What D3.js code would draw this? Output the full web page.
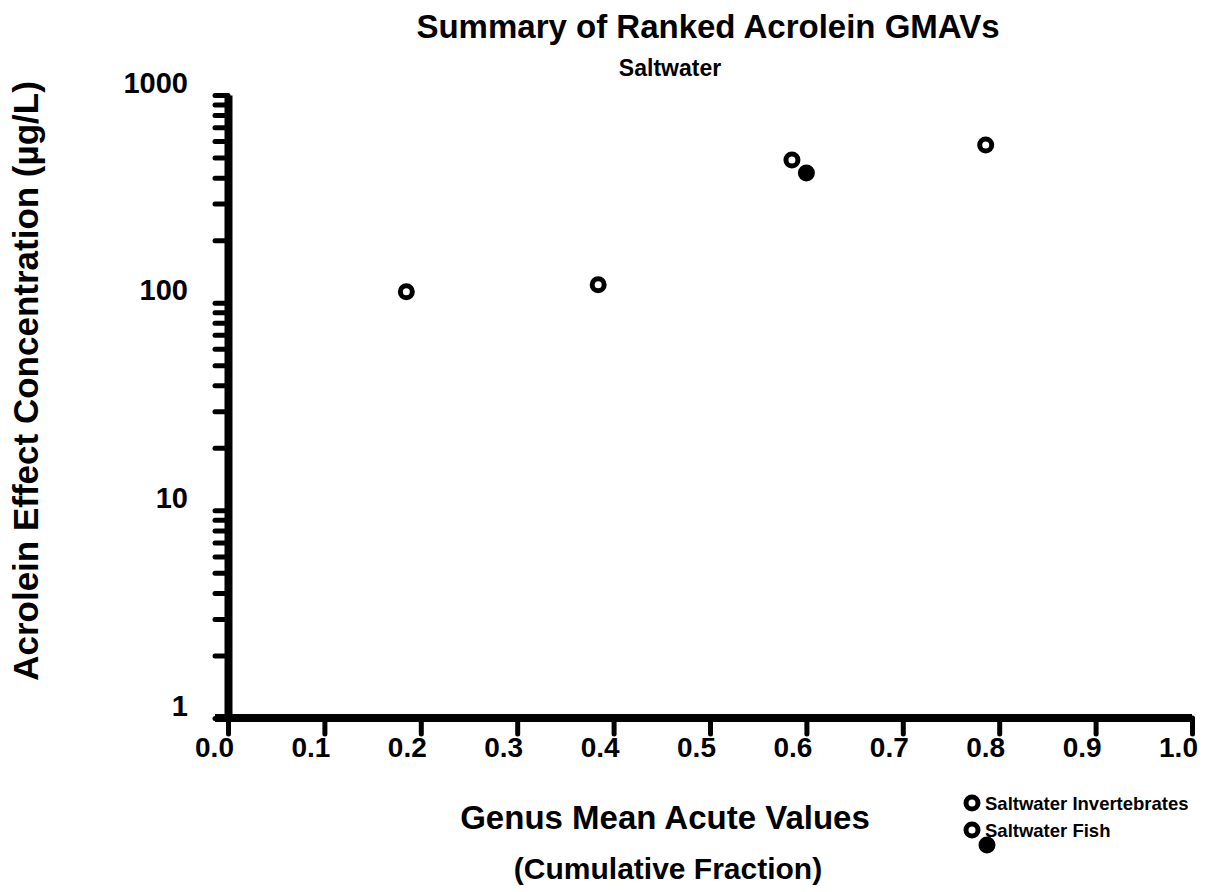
<!DOCTYPE html>
<html>
  <head>
    <meta charset="utf-8">
    <title>Summary of Ranked Acrolein GMAVs</title>
    <script src="https://cdn.jsdelivr.net/npm/d3@7"></script>
    <style>
    body {margin:0; background:#fff;}
    svg text {font-family: Arial, 'Liberation Sans', sans-serif; font-weight: bold; fill:#000;}
    </style>
  </head>
  <body>
    <svg id="svg1" width="1208" height="892"></svg>
    <script>
    // data
    var invertFrac = [0.185, 0.384, 0.585, 0.786];
    var invertConc = [113, 122, 486, 574];
    var fishFrac = [0.600];
    var fishConc = [421];
    var xTicks = [0, 0.1, 0.2, 0.3, 0.4, 0.5, 0.6, 0.7, 0.8, 0.9, 1.0];
    var yDecades = [1, 10, 100, 1000];
    var legendNames = ['Saltwater Invertebrates', 'Saltwater Fish'];

    var svg = d3.select('#svg1');

    var x = d3.scaleLinear().domain([0, 1]).range([228, 1192]);
    var y = d3.scaleLog().domain([1, 1000]).range([718, 95]);

    // all log ticks 1..9 per decade
    var yTickVals = [];
    yDecades.forEach(function (d) {
      if (d === 1000) { yTickVals.push(d); return; }
      for (var k = 1; k < 10; k++) yTickVals.push(d * k);
    });

    // y axis
    var yAxis = d3.axisLeft(y)
      .tickValues(yTickVals)
      .tickSize(13)
      .tickSizeOuter(0)
      .tickFormat(function (d) { return yDecades.indexOf(d) >= 0 ? d : ''; });

    var gy = svg.append('g')
      .attr('transform', 'translate(' + x(0) + ',0)')
      .call(yAxis);
    gy.select('.domain').attr('stroke', '#000').attr('stroke-width', 8);
    gy.selectAll('.tick line').attr('stroke', '#000').attr('stroke-width', 5).attr('stroke-linecap', 'round');
    gy.selectAll('.tick text')
      .attr('x', -40)
      .attr('dy', '-0.1em')
      .style('font-size', '29px');

    // x axis
    var xAxis = d3.axisBottom(x)
      .tickValues(xTicks)
      .tickSize(16)
      .tickSizeOuter(0)
      .tickPadding(3)
      .tickFormat(d3.format('.1f'));

    var gx = svg.append('g')
      .attr('transform', 'translate(0,' + y(1) + ')')
      .call(xAxis);
    gx.select('.domain').attr('stroke', '#000').attr('stroke-width', 8)
      .attr('d', 'M' + (x(0) - 13) + ',0H' + x(1));
    gx.selectAll('.tick line').attr('stroke', '#000').attr('stroke-width', 5).attr('stroke-linecap', 'round');
    gx.selectAll('.tick text').attr('x', -14).style('font-size', '28px');

    // points
    var ring = function (sel) {
      sel.attr('r', 6).attr('fill', '#fff').attr('stroke', '#000').attr('stroke-width', 5);
    };
    svg.append('g').selectAll('circle')
      .data(invertFrac)
      .enter().append('circle')
      .attr('cx', function (d) { return x(d); })
      .attr('cy', function (d, i) { return y(invertConc[i]); })
      .call(ring);

    svg.append('g').selectAll('circle')
      .data(fishFrac)
      .enter().append('circle')
      .attr('cx', function (d) { return x(d); })
      .attr('cy', function (d, i) { return y(fishConc[i]); })
      .attr('r', 8.5)
      .attr('fill', '#000');

    // titles
    svg.append('text').attr('x', 708).attr('y', 38).attr('text-anchor', 'middle')
      .style('font-size', '33px').text('Summary of Ranked Acrolein GMAVs');
    svg.append('text').attr('x', 670).attr('y', 76).attr('text-anchor', 'middle')
      .style('font-size', '23px').text('Saltwater');
    svg.append('text').attr('x', 665).attr('y', 829).attr('text-anchor', 'middle')
      .style('font-size', '33px').text('Genus Mean Acute Values');
    svg.append('text').attr('x', 668).attr('y', 879).attr('text-anchor', 'middle')
      .style('font-size', '30px').text('(Cumulative Fraction)');
    svg.append('text')
      .attr('transform', 'translate(38,381) rotate(-90)')
      .attr('text-anchor', 'middle')
      .style('font-size', '35px').text('Acrolein Effect Concentration (µg/L)');

    // legend
    var lg = svg.append('g');
    legendNames.forEach(function (name, i) {
      lg.append('circle').attr('cx', 972).attr('cy', 803 + i * 27).call(ring);
      lg.append('text').attr('x', 985).attr('y', 810 + i * 27)
        .style('font-size', '18.5px').text(name);
    });
    lg.append('circle').attr('cx', 987).attr('cy', 845).attr('r', 8.5).attr('fill', '#000');
    </script>
  </body>
</html>
